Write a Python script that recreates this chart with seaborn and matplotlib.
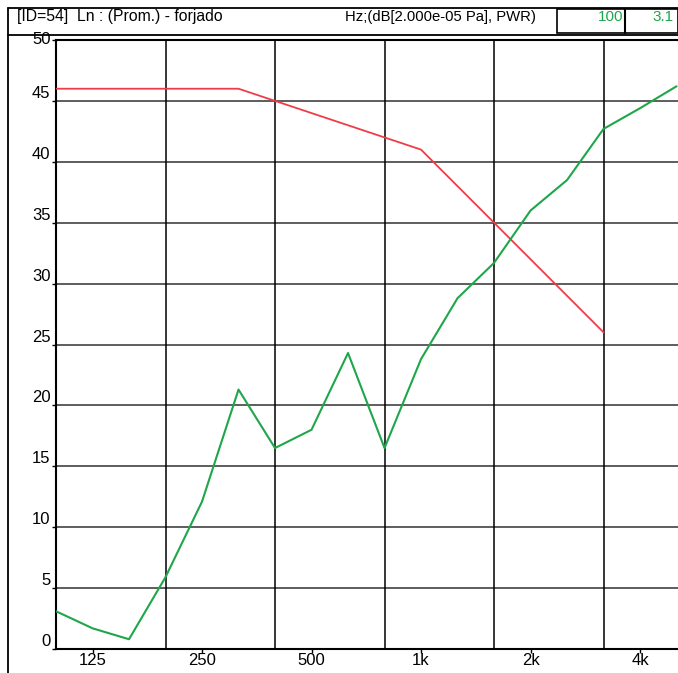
import numpy as np
import pandas as pd
import seaborn as sns
import matplotlib.pyplot as plt
from matplotlib.lines import Line2D
from matplotlib.patches import Rectangle

# Third-octave bands and levels
bands = [100, 125, 160, 200, 250, 315, 400, 500, 630, 800,
         1000, 1250, 1600, 2000, 2500, 3150, 4000, 5000]
ln_values = [3.1, 1.7, 0.8, 5.9, 12.1, 21.3, 16.5, 18.0, 24.3, 16.5,
             23.8, 28.8, 31.7, 36.0, 38.5, 42.7, 44.4, 46.2]
ref_bands = [100, 125, 160, 200, 250, 315, 400, 500, 630, 800,
             1000, 1250, 1600, 2000, 2500, 3150]
ref_values = [46, 46, 46, 46, 46, 46, 45, 44, 43, 42, 41, 38, 35, 32, 29, 26]
label_bands = [125, 250, 500, 1000, 2000, 4000]
label_text = ['125', '250', '500', '1k', '2k', '4k']
grid_bands = [200, 400, 800, 1600, 3150]
y_ticks = list(range(0, 51, 5))

sns.set_style('white')
plt.rcParams['font.family'] = ['Liberation Sans', 'DejaVu Sans']
plt.rcParams['text.color'] = 'black'
plt.rcParams['xtick.color'] = 'black'
plt.rcParams['ytick.color'] = 'black'

pos = {b: i for i, b in enumerate(bands)}
df_ln = pd.DataFrame({'x': [pos[b] for b in bands], 'dB': ln_values})
df_ref = pd.DataFrame({'x': [pos[b] for b in ref_bands], 'dB': ref_values})

W, H = 678, 673
fig = plt.figure(figsize=(W / 100, H / 100), dpi=100)
ax = fig.add_axes([56 / W, (H - 649) / H, (W - 56) / W, (649 - 40) / H])

# grid
for yv in y_ticks[1:]:
    ax.axhline(yv, color='#505050', lw=1.3, zorder=1)
for b in grid_bands:
    ax.axvline(pos[b], color='black', lw=1.1, zorder=1)

sns.lineplot(data=df_ref, x='x', y='dB', color='#f03c48', lw=1.3, ax=ax, zorder=3)
sns.lineplot(data=df_ln, x='x', y='dB', color='#1fa64a', lw=1.5, ax=ax, zorder=4)

ax.set_xlim(0, 17.04)
ax.set_ylim(0, 50)
ax.set_xlabel('')
ax.set_ylabel('')

ax.set_yticks(y_ticks)
ax.set_yticklabels([str(v) for v in y_ticks], fontsize=12)
for lab in ax.get_yticklabels():
    lab.set_verticalalignment('bottom')
ylabs = ax.get_yticklabels()
ylabs[-1].set_verticalalignment('center')
ax.set_xticks([pos[b] for b in label_bands])
ax.set_xticklabels(label_text, fontsize=12)
ax.tick_params(axis='y', length=3, width=1, pad=1, direction='out', left=True)
ax.tick_params(axis='x', length=3, width=1, pad=0, direction='out', bottom=True)

for s in ['left', 'top', 'bottom']:
    ax.spines[s].set_color('black')
    ax.spines[s].set_linewidth(1.5)
ax.spines['right'].set_visible(False)

# outer frame and header
def fx(x):
    return x / W

def fy(y):
    return 1 - y / H

frame = [((8, 8), (678, 8)), ((8, 8), (8, 673)), ((8, 35), (678, 35))]
for (x0, y0), (x1, y1) in frame:
    fig.add_artist(Line2D([fx(x0), fx(x1)], [fy(y0), fy(y1)], color='black', lw=1.3))
fig.add_artist(Rectangle((fx(557), fy(33)), fx(678) - fx(557), fy(9) - fy(33),
                         transform=fig.transFigure, fill=False, ec='black', lw=1.2))
fig.add_artist(Line2D([fx(625), fx(625)], [fy(9), fy(33)], color='black', lw=1.5))

fig.text(fx(17), fy(17), '[ID=54]  Ln : (Prom.) - forjado', fontsize=11.3, va='center', ha='left')
fig.text(fx(345), fy(17), 'Hz;(dB[2.000e-05 Pa], PWR)', fontsize=10.7, va='center', ha='left')
fig.text(fx(623), fy(17), '100', fontsize=11, va='center', ha='right', color='#1fa64a')
fig.text(fx(652), fy(17), '3.1', fontsize=11, va='center', ha='left', color='#1fa64a')

fig.savefig('out.png', dpi=100)
